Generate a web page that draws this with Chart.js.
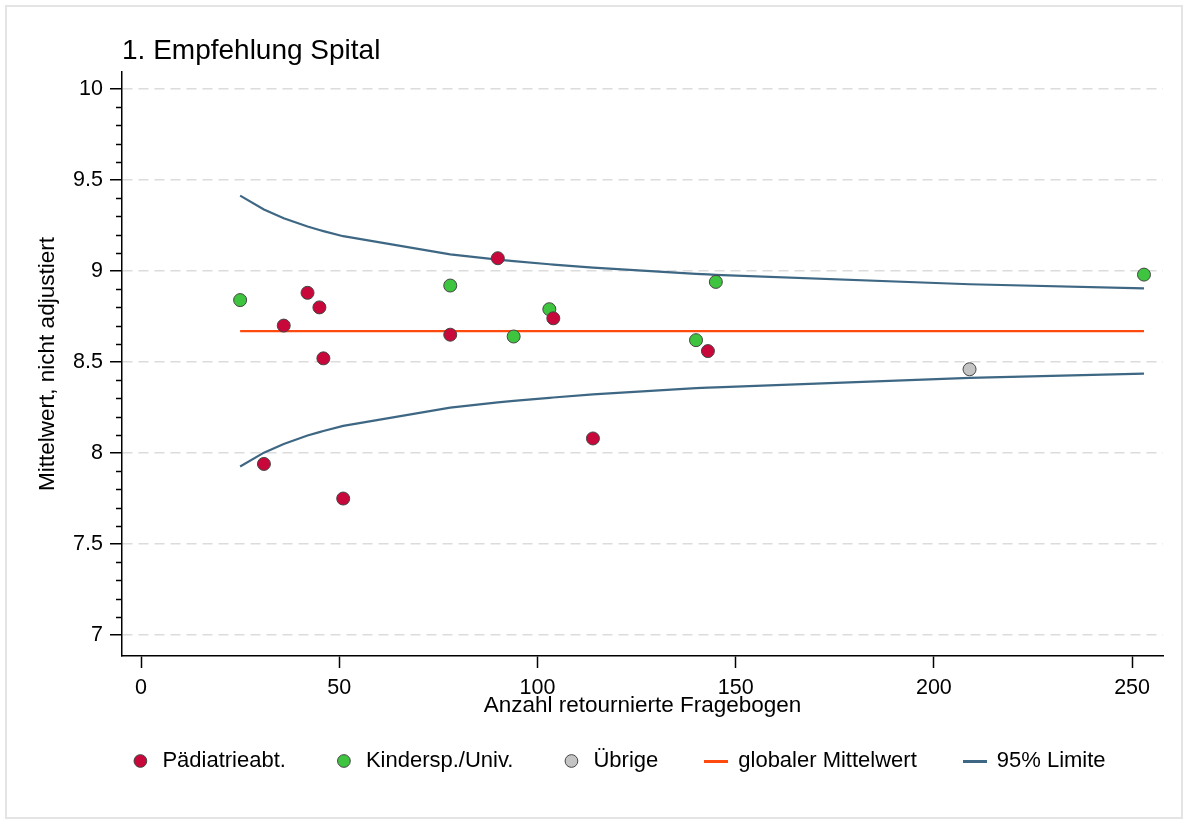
<!DOCTYPE html>
<html>
<head>
<meta charset="utf-8">
<title>1. Empfehlung Spital</title>
<script src="https://cdn.jsdelivr.net/npm/chart.js@4.4.1/dist/chart.umd.min.js"></script>
<style>
  body { margin: 0; background: #fff; }
  #wrap { position: relative; width: 1187px; height: 820px; }
  #frame {
    position: absolute; left: 5px; top: 5px; width: 1174px; height: 810px;
    border: 2px solid #e4e4e4; pointer-events: none;
  }
</style>
</head>
<body>
<div id="wrap">
  <canvas id="chartCanvas" width="1187" height="820"></canvas>
  <div id="frame"></div>
</div>
<script>
// data
const paedN = [31, 36, 42, 45, 46, 51, 78, 90, 104, 114, 143];
const paedScore = [7.94, 8.70, 8.88, 8.80, 8.52, 7.75, 8.65, 9.07, 8.74, 8.08, 8.56];

const kinderN = [25, 78, 94, 103, 140, 145, 253];
const kinderScore = [8.84, 8.92, 8.64, 8.79, 8.62, 8.94, 8.98];

const uebrigeN = [209];
const uebrigeScore = [8.46];

const meanN = [25, 253];
const meanScore = [8.67, 8.67];

const limitN = [25, 31, 36, 42, 45, 46, 51, 78, 90, 94, 103, 104, 114, 140, 143, 145, 209, 253];
const upperLimit = [9.414, 9.338, 9.290, 9.244, 9.225, 9.219, 9.191, 9.091, 9.062, 9.054, 9.037, 9.035, 9.018, 8.984, 8.981, 8.979, 8.927, 8.904];
const lowerLimit = [7.926, 8.002, 8.050, 8.096, 8.115, 8.121, 8.149, 8.249, 8.278, 8.286, 8.303, 8.305, 8.322, 8.356, 8.359, 8.361, 8.413, 8.436];

const xTicks = [0, 50, 100, 150, 200, 250];
const yTicks = [7, 7.5, 8, 8.5, 9, 9.5, 10];

const colors = {
  paed: "#c8073a",
  kinder: "#3ec43e",
  uebrige: "#c4c4c4",
  mean: "#ff4a0f",
  limit: "#3e6784",
  markerBorder: "#454545",
};

const toPoints = (xs, ys) => xs.map((x, i) => ({ x: x, y: ys[i] }));

// short line used as legend symbol for the line series
const legendLine = (color) => {
  const c = document.createElement("canvas");
  c.width = 24;
  c.height = 3;
  const g = c.getContext("2d");
  g.fillStyle = color;
  g.fillRect(0, 0, 24, 3);
  return c;
};

const markerSet = (label, xs, ys, color) => ({
  label: label,
  data: toPoints(xs, ys),
  pointStyle: "circle",
  pointRadius: 6.5,
  pointBackgroundColor: color,
  pointBorderColor: colors.markerBorder,
  pointBorderWidth: 1,
  showLine: false,
});

const lineSet = (label, xs, ys, color) => ({
  label: label,
  data: toPoints(xs, ys),
  showLine: true,
  borderColor: color,
  borderWidth: 2.2,
  pointRadius: 0,
  pointStyle: legendLine(color),
  tension: 0,
});

// minor ticks on the y axis (every 0.1)
const minorTicks = {
  id: "minorTicks",
  afterDraw(chart) {
    const scale = chart.scales.y;
    const ctx = chart.ctx;
    ctx.save();
    ctx.strokeStyle = "#000";
    ctx.lineWidth = 1.5;
    for (let i = 71; i < 100; i++) {
      if (i % 5 === 0) continue;
      const py = Math.round(scale.getPixelForValue(i / 10)) + 0.5;
      ctx.beginPath();
      ctx.moveTo(scale.right - 6, py);
      ctx.lineTo(scale.right, py);
      ctx.stroke();
    }
    ctx.restore();
  },
};

Chart.defaults.font.family = '"Liberation Sans", Arial, sans-serif';
Chart.defaults.color = "#000";

const ctx = document.getElementById("chartCanvas").getContext("2d");

new Chart(ctx, {
  type: "scatter",
  data: {
    datasets: [
      markerSet("Pädiatrieabt.", paedN, paedScore, colors.paed),
      markerSet("Kindersp./Univ.", kinderN, kinderScore, colors.kinder),
      markerSet("Übrige", uebrigeN, uebrigeScore, colors.uebrige),
      lineSet("globaler Mittelwert", meanN, meanScore, colors.mean),
      lineSet("95% Limite", limitN, upperLimit, colors.limit),
      lineSet("95% Limite (unten)", limitN, lowerLimit, colors.limit),
    ],
  },
  options: {
    responsive: false,
    animation: false,
    layout: { padding: { left: 72, right: 24, top: 0, bottom: 38 } },
    scales: {
      x: {
        type: "linear",
        min: -4.8,
        max: 257.8,
        afterBuildTicks: (axis) => {
          axis.ticks = xTicks.map((v) => ({ value: v }));
        },
        afterFit: (axis) => {
          axis.height = 47;
        },
        ticks: {
          font: { size: 21.5 },
          padding: 7,
          maxRotation: 0,
          callback: (v) => String(v),
        },
        grid: {
          drawOnChartArea: false,
          drawTicks: true,
          tickLength: 12,
          tickColor: "#000",
          tickWidth: 1.5,
        },
        border: { display: true, color: "#000", width: 1.5 },
        title: {
          display: true,
          text: "Anzahl retournierte Fragebogen",
          font: { size: 22.5 },
          padding: { top: 0, bottom: -16.5 },
        },
      },
      y: {
        type: "linear",
        min: 6.885,
        max: 10.093,
        afterBuildTicks: (axis) => {
          axis.ticks = yTicks.map((v) => ({ value: v }));
        },
        afterFit: (axis) => {
          axis.width = 50;
        },
        ticks: {
          font: { size: 21.5 },
          padding: 7,
          callback: (v) => String(v),
        },
        grid: {
          color: "#dcdcdc",
          lineWidth: 1.5,
          tickLength: 12,
          tickColor: "#000",
          tickWidth: 1.5,
        },
        border: { display: true, color: "#000", width: 1.5, dash: [10, 6] },
        title: {
          display: true,
          text: "Mittelwert, nicht adjustiert",
          font: { size: 22.5 },
          padding: { top: -37.5, bottom: 0 },
        },
      },
    },
    plugins: {
      title: {
        display: true,
        text: "1. Empfehlung Spital",
        align: "start",
        fullSize: false,
        font: { size: 28, weight: "normal" },
        padding: { top: 34, bottom: 4.4 },
      },
      legend: {
        position: "bottom",
        labels: {
          usePointStyle: true,
          boxWidth: 22,
          boxHeight: 9,
          padding: 47,
          font: { size: 22 },
          filter: (item) => item.datasetIndex !== 5,
        },
      },
      tooltip: { enabled: false },
    },
  },
  plugins: [minorTicks],
});
</script>
</body>
</html>
